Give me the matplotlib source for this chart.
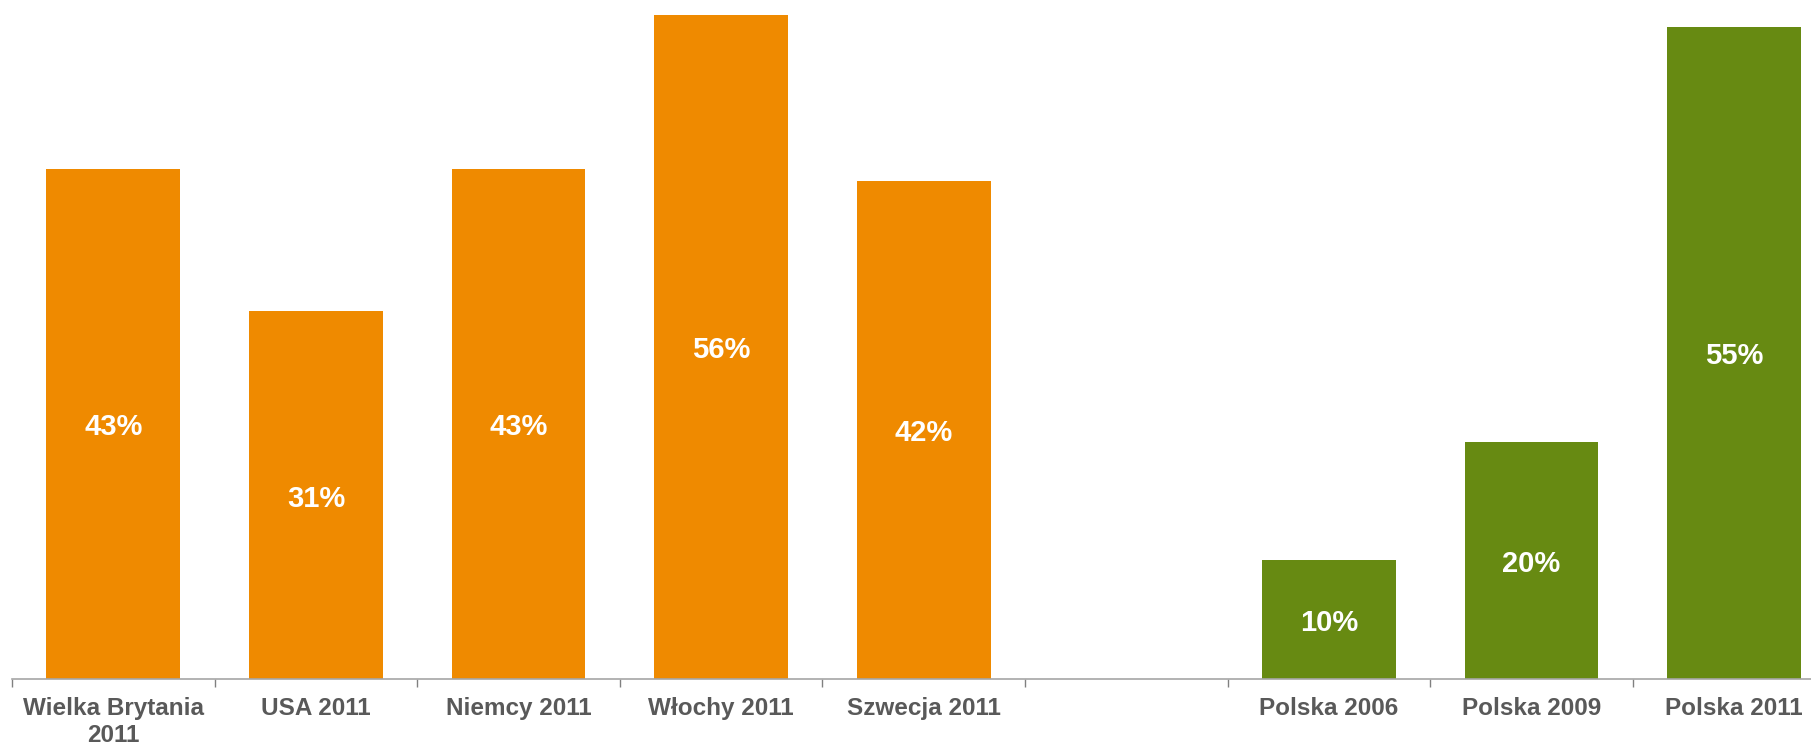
import numpy as np
import matplotlib
matplotlib.use("Agg")
import matplotlib.pyplot as plt

# data
categories = ["Wielka Brytania\n2011", "USA 2011", "Niemcy 2011", "Włochy 2011",
              "Szwecja 2011", "", "Polska 2006", "Polska 2009", "Polska 2011"]
values = [43, 31, 43, 56, 42, np.nan, 10, 20, 55]
groups = ["world"] * 5 + [""] + ["polska"] * 3

ORANGE = "#EF8A00"
GREEN = "#678A12"
group_colors = {"world": ORANGE, "polska": GREEN, "": "none"}

plt.rcParams["font.family"] = ["Liberation Sans", "DejaVu Sans"]

W, H = 1811, 746
fig = plt.figure(figsize=(W / 100, H / 100), dpi=100)

# axes runs a bit past the right edge of the picture, like in the original slide
px_per_cat = 202.6
ax = fig.add_axes([12 / W, 67 / H, 9 * px_per_cat / W, 679 / H])

x = np.arange(len(categories)) + 0.5
colors = [group_colors[g] for g in groups]
ax.bar(x, values, width=0.66, color=colors, edgecolor="none")

for xi, v in zip(x, values):
    if np.isnan(v):
        continue
    ax.annotate(f"{v:.0f}%", (xi, v / 2), xytext=(0, -2.5),
                textcoords="offset points", ha="center", va="center",
                color="white", fontsize=21, fontweight="bold")

ax.set_xlim(0, len(categories))
ax.set_ylim(0, 679 / 11.86)

# tick marks on category boundaries, labels in the middle
ax.set_xticks(np.arange(len(categories) + 1))
ax.set_xticklabels([])
ax.set_xticks(x, minor=True)
ax.set_xticklabels(categories, minor=True, fontsize=17.5, fontweight="bold",
                   color="#595959")
ax.tick_params(axis="x", which="major", length=6, width=1, color="#808080",
               direction="out")
ax.tick_params(axis="x", which="minor", length=0, pad=13)

ax.set_yticks([])
for s in ["top", "right", "left"]:
    ax.spines[s].set_visible(False)
ax.spines["bottom"].set_color("#A6A6A6")
ax.spines["bottom"].set_linewidth(1.2)

fig.savefig("out.png", dpi=100)
